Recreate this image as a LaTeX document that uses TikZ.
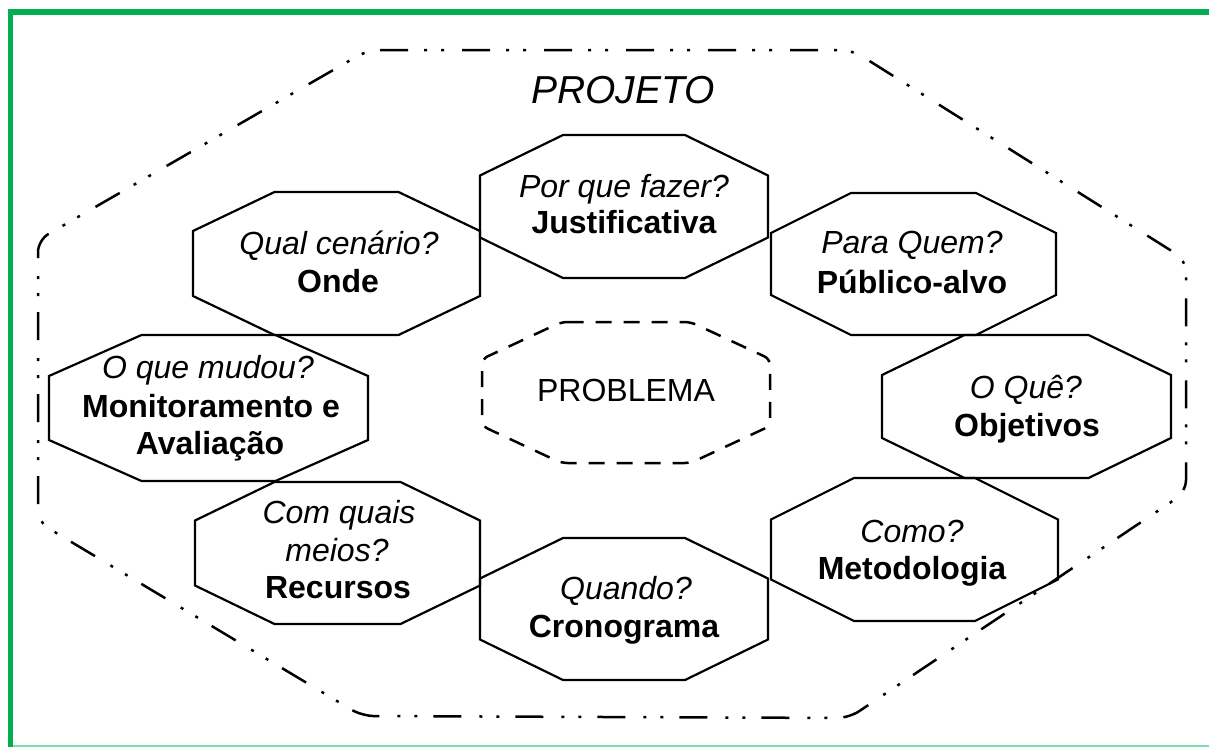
\documentclass[tikz,border=0pt]{standalone}
\usepackage{fontspec}
\setmainfont{Liberation Sans}
\definecolor{frameGreen}{RGB}{0,176,80}
\definecolor{mintline}{RGB}{120,222,170}
\tikzset{
 octa/.style={draw=black, line width=2.2pt, line join=miter},
 projline/.style={draw=black, line width=2.5pt, dash pattern=on 28pt off 16pt on 3pt off 14pt on 3pt off 18pt, rounded corners=12pt},
 probline/.style={draw=black, line width=2.5pt, dash pattern=on 16pt off 12pt, rounded corners=6pt},
 qtext/.style={inner sep=0pt, anchor=base, font=\fontsize{32}{38}\selectfont\itshape},
 atext/.style={inner sep=0pt, anchor=base, font=\fontsize{32}{38}\selectfont\bfseries},
 ptext/.style={inner sep=0pt, anchor=base, font=\fontsize{32}{38}\selectfont},
 titletext/.style={inner sep=0pt, anchor=base, font=\fontsize{39}{46}\selectfont\itshape},
}
% style, cx, cy, half width, half top edge, half height, half vertical side
\newcommand{\drawocto}[7]{\draw[#1] ({#2-#5},{#3-#6}) -- ({#2+#5},{#3-#6}) -- ({#2+#4},{#3-#7}) -- ({#2+#4},{#3+#7}) -- ({#2+#5},{#3+#6}) -- ({#2-#5},{#3+#6}) -- ({#2-#4},{#3+#7}) -- ({#2-#4},{#3-#7}) -- cycle;}
\begin{document}
\begin{tikzpicture}[x=1pt,y=-1pt]
\useasboundingbox (0,0) rectangle (1209,747);
\fill[white] (0,0) rectangle (1209,747);
% frame
\draw[frameGreen, line width=6pt] (8,12) -- (1209,12);
\draw[frameGreen, line width=5pt] (10.5,9) -- (10.5,747);
\draw[mintline, line width=1.5pt] (13,746) -- (1209,746);
% PROJETO outline
\draw[projline] (368,50) -- (852,50) -- (1186,260) -- (1186,492) -- (849,718) -- (362,716) -- (38,522) -- (38,240) -- cycle;
% octagons
\drawocto{octa}{624}{206.5}{144}{61}{71.5}{31}
\drawocto{octa}{336.5}{263.5}{143.5}{62}{71.5}{32.5}
\drawocto{octa}{913.5}{264}{142.5}{62.5}{71}{31}
\drawocto{octa}{208.5}{408}{159.5}{67}{73}{32}
\drawocto{octa}{1026.5}{406.5}{144.5}{62}{71.5}{31.5}
\drawocto{octa}{914.5}{549.5}{143.5}{60.5}{71.5}{30}
\drawocto{octa}{624}{609}{144}{61}{71}{30.5}
\drawocto{octa}{337.5}{553}{142.5}{63}{71}{32.5}
\drawocto{probline}{626}{392.5}{144}{64.5}{70.5}{33.5}
% texts
\node[titletext] (projeto) at (623,103) {PROJETO};
\node[qtext] (q1) at (624,197) {Por que fazer?};
\node[atext] (a1) at (624,233) {Justificativa};
\node[qtext] (q2) at (339,254) {Qual cenário?};
\node[atext] (a2) at (338,292) {Onde};
\node[qtext] (q3) at (912,253) {Para Quem?};
\node[atext] (a3) at (912,293) {Público-alvo};
\node[qtext] (q4) at (208,378) {O que mudou?};
\node[atext] (a4a) at (211,417) {Monitoramento e};
\node[atext] (a4b) at (210,454) {Avaliação};
\node[ptext] (prob) at (626,401) {PROBLEMA};
\node[qtext] (q5) at (1026,398) {O Quê?};
\node[atext] (a5) at (1027,436) {Objetivos};
\node[qtext] (q6) at (912,542) {Como?};
\node[atext] (a6) at (912,579) {Metodologia};
\node[qtext] (q7) at (626,599) {Quando?};
\node[atext] (a7) at (624,637) {Cronograma};
\node[qtext] (q8a) at (339,523) {Com quais};
\node[qtext] (q8b) at (337,561) {meios?};
\node[atext] (a8) at (338,598) {Recursos};
\end{tikzpicture}
\end{document}
